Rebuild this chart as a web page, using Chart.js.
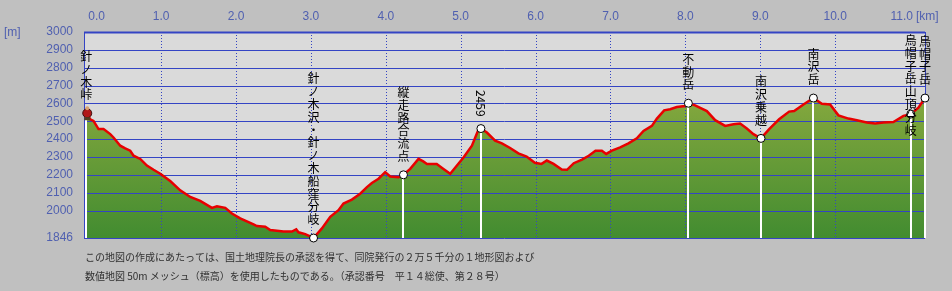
<!DOCTYPE html>
<html>
<head>
<meta charset="utf-8">
<script src="https://cdn.jsdelivr.net/npm/chart.js@4.4.0/dist/chart.umd.min.js"></script>
<style>
  html, body { margin: 0; padding: 0; background: #c0c0c0; }
  #profile { display: block; }
</style>
</head>
<body>
<canvas id="profile" width="952" height="291"></canvas>
<script>
/* ==========================================================================
   DATA
   ========================================================================== */
// distance along the route [km]
const kmValues = [
    0, 0.053, 0.097, 0.164, 0.231, 0.320, 0.364, 0.454, 0.521, 0.587,
    0.632, 0.721, 0.810, 0.899, 0.988, 1.121, 1.255, 1.389, 1.522, 1.678,
    1.745, 1.856, 1.945, 2.056, 2.234, 2.279, 2.390, 2.457, 2.634, 2.746,
    2.804, 2.834, 2.924, 3.035, 3.147, 3.258, 3.368, 3.435, 3.547, 3.658,
    3.748, 3.814, 3.903, 3.992, 4.059, 4.170, 4.236, 4.326, 4.437, 4.50,
    4.55, 4.68, 4.77, 4.86, 4.95, 5.04, 5.15, 5.24, 5.27, 5.35,
    5.46, 5.55, 5.66, 5.77, 5.88, 5.99, 6.08, 6.15, 6.24, 6.35,
    6.42, 6.51, 6.62, 6.71, 6.80, 6.885, 6.943, 7.019, 7.130, 7.240,
    7.352, 7.441, 7.553, 7.620, 7.717, 7.797, 7.886, 7.997, 8.04, 8.130,
    8.287, 8.398, 8.531, 8.642, 8.731, 8.821, 8.909, 9.01, 9.119, 9.252,
    9.386, 9.453, 9.577, 9.71, 9.822, 9.933, 10.044, 10.178, 10.290, 10.423,
    10.534, 10.645, 10.778, 10.912, 11.01, 11.112, 11.2
];
// elevation [m]
const elevValues = [
    2545, 2511, 2502, 2456, 2456, 2428, 2409, 2363, 2348, 2335,
    2307, 2289, 2252, 2228, 2206, 2165, 2113, 2076, 2054, 2015,
    2024, 2015, 1983, 1956, 1922, 1913, 1909, 1891, 1882, 1882,
    1894, 1878, 1868, 1846, 1900, 1965, 2002, 2039, 2061, 2094,
    2131, 2154, 2178, 2215, 2191, 2187, 2200, 2233, 2289, 2275,
    2261, 2261, 2233, 2206, 2252, 2298, 2363, 2456, 2459, 2437,
    2391, 2376, 2350, 2320, 2302, 2267, 2261, 2280, 2261, 2230,
    2228, 2265, 2285, 2307, 2335, 2335, 2317, 2335, 2354, 2376,
    2404, 2446, 2474, 2515, 2561, 2567, 2580, 2585, 2601, 2589,
    2557, 2506, 2474, 2483, 2487, 2459, 2428, 2404, 2456, 2511,
    2554, 2557, 2594, 2630, 2598, 2594, 2533, 2515, 2506, 2493,
    2487, 2493, 2496, 2530, 2540, 2576, 2630
];

// waypoints
const pointNames = ['針ノ木峠', '針ノ木沢・針ノ木船窪分岐', '縦走路合流点', '2459', '不動岳', '南沢乗越', '南沢岳', '烏帽子岳山頂分岐', '烏帽子岳'];
const pointKm = [0, 3.035, 4.236, 5.27, 8.04, 9.01, 9.71, 11.01, 11.2];
const pointElev = [2545, 1846, 2200, 2459, 2601, 2404, 2630, 2540, 2630];

// axis ticks
const kmTicks = [0, 1, 2, 3, 4, 5, 6, 7, 8, 9, 10, 11];
const elevTicks = [3000, 2900, 2800, 2700, 2600, 2500, 2400, 2300, 2200, 2100, 2000, 1846];

const noteLines = [
    'この地図の作成にあたっては、国土地理院長の承認を得て、同院発行の２万５千分の１地形図および',
    '数値地図 50m メッシュ（標高）を使用したものである。（承認番号　平１４総使、第２８号）'
];

const profileData = kmValues.map((km, i) => ({ x: km, y: elevValues[i] }));

/* ==========================================================================
   DRAWING HELPERS
   ========================================================================== */
const GRID_BLUE = '#3444c4';
const AXIS_TEXT = '#5060b0';
const LABEL_FONT = '12px "Noto Sans CJK JP", sans-serif';

const profilePlugin = {
    id: 'profilePlugin',

    beforeDraw(chart) {
        const { ctx, chartArea: a } = chart;
        ctx.save();
        ctx.fillStyle = '#dadada';
        ctx.fillRect(a.left, a.top, a.right - a.left, a.bottom - a.top);
        ctx.restore();
    },

    // grid goes over the green fill but under the red line
    afterDatasetDraw(chart, args) {
        if (args.index !== 0) return;
        const { ctx, chartArea: a, scales: { x, y } } = chart;
        ctx.save();
        ctx.strokeStyle = GRID_BLUE;

        elevTicks.forEach(v => {
            const py = Math.round(y.getPixelForValue(v)) + 0.5;
            ctx.lineWidth = v === 3000 ? 2 : 1;
            ctx.beginPath();
            ctx.moveTo(a.left, py);
            ctx.lineTo(a.right, py);
            ctx.stroke();
        });

        ctx.lineWidth = 1;
        ctx.setLineDash([1, 2]);
        kmTicks.slice(1).forEach(v => {
            const px = Math.round(x.getPixelForValue(v)) + 0.5;
            ctx.beginPath();
            ctx.moveTo(px, a.top);
            ctx.lineTo(px, a.bottom);
            ctx.stroke();
        });

        ctx.setLineDash([]);
        [a.left, a.right].forEach(px => {
            ctx.beginPath();
            ctx.moveTo(Math.round(px) + 0.5, a.top);
            ctx.lineTo(Math.round(px) + 0.5, a.bottom);
            ctx.stroke();
        });
        ctx.restore();
    },

    afterDatasetsDraw(chart) {
        const { ctx, chartArea: a, scales: { x, y } } = chart;
        ctx.save();

        // white drop lines
        ctx.strokeStyle = '#ffffff';
        ctx.lineWidth = 2;
        pointKm.forEach((km, i) => {
            const px = Math.round(x.getPixelForValue(km));
            ctx.beginPath();
            ctx.moveTo(px, y.getPixelForValue(pointElev[i]));
            ctx.lineTo(px, a.bottom);
            ctx.stroke();
        });

        // markers
        pointKm.forEach((km, i) => {
            const px = x.getPixelForValue(km);
            const py = y.getPixelForValue(pointElev[i]);
            if (i === 0) {
                // little hiker icon at the start
                ctx.fillStyle = '#b01818';
                ctx.strokeStyle = '#401010';
                ctx.lineWidth = 1;
                ctx.beginPath();
                ctx.arc(px + 1, py, 4.5, 0, Math.PI * 2);
                ctx.fill();
                ctx.stroke();
                ctx.fillStyle = '#d8a070';
                ctx.beginPath();
                ctx.arc(px + 1, py - 5, 2, 0, Math.PI * 2);
                ctx.fill();
                ctx.fillStyle = '#504020';
                ctx.fillRect(px - 2, py + 4, 6, 3);
                return;
            }
            ctx.fillStyle = '#ffffff';
            ctx.strokeStyle = '#000000';
            ctx.lineWidth = 1;
            ctx.beginPath();
            ctx.arc(px, py, 4, 0, Math.PI * 2);
            ctx.fill();
            ctx.stroke();
        });

        // vertical labels
        ctx.fillStyle = '#000000';
        ctx.font = LABEL_FONT;
        ctx.textAlign = 'center';
        ctx.textBaseline = 'middle';
        const step = 12.8;
        pointNames.forEach((name, i) => {
            const px = x.getPixelForValue(pointKm[i]);
            const py = y.getPixelForValue(pointElev[i]);
            const bottom = py - 12;
            if (/^\d+$/.test(name)) {
                const w = ctx.measureText(name).width;
                ctx.save();
                ctx.translate(px, bottom - w / 2);
                ctx.rotate(Math.PI / 2);
                ctx.fillText(name, 0, 0);
                ctx.restore();
                return;
            }
            const chars = Array.from(name);
            const top = Math.max(a.top + 2, bottom - chars.length * step);
            chars.forEach((c, k) => {
                ctx.fillText(c, px, top + (k + 0.5) * step);
            });
        });
        ctx.restore();
    },

    afterDraw(chart) {
        const { ctx, chartArea: a, scales: { x, y } } = chart;
        ctx.save();
        ctx.fillStyle = AXIS_TEXT;
        ctx.font = '12px "Liberation Sans", sans-serif';
        ctx.textBaseline = 'middle';

        // elevation labels
        ctx.textAlign = 'right';
        elevTicks.forEach(v => ctx.fillText(String(v), a.left - 11, y.getPixelForValue(v)));
        ctx.textAlign = 'left';
        ctx.fillText('[m]', 4, 33);

        // distance labels (first one pushed right, last one pulled left)
        const lastTick = kmTicks.length - 1;
        kmTicks.forEach((v, i) => {
            let px = x.getPixelForValue(v);
            ctx.textAlign = 'center';
            if (i === 0) { ctx.textAlign = 'left'; px += 2; }
            if (i === lastTick) { ctx.textAlign = 'right'; px += 3; }
            ctx.fillText(v.toFixed(1), px, 17);
        });
        ctx.textAlign = 'left';
        ctx.fillText('[km]', 916, 17);

        // note under the chart
        ctx.fillStyle = '#303030';
        ctx.font = '10px "Noto Sans CJK JP", sans-serif';
        noteLines.forEach((line, i) => ctx.fillText(line, 85, 257 + i * 19));
        ctx.restore();
    }
};

/* ==========================================================================
   CHART
   ========================================================================== */
const canvas = document.getElementById('profile');
const ctx2d = canvas.getContext('2d');
const greenFill = ctx2d.createLinearGradient(0, 95, 0, 238);
greenFill.addColorStop(0, '#86a83e');
greenFill.addColorStop(1, '#428c30');

new Chart(canvas, {
    type: 'line',
    data: {
        datasets: [
            {
                data: profileData,
                borderWidth: 0,
                pointRadius: 0,
                fill: 'start',
                backgroundColor: greenFill,
                tension: 0,
                order: 2
            },
            {
                data: profileData,
                borderColor: '#e80000',
                borderWidth: 2.5,
                pointRadius: 0,
                fill: false,
                tension: 0,
                order: 1
            }
        ]
    },
    options: {
        responsive: false,
        animation: false,
        layout: { padding: { left: 84, top: 32, right: 27, bottom: 53 } },
        plugins: {
            legend: { display: false },
            tooltip: { enabled: false }
        },
        scales: {
            x: { type: 'linear', display: false, min: -0.03, max: 11.2 },
            y: { type: 'linear', display: false, min: 1846, max: 3000 }
        }
    },
    plugins: [profilePlugin]
});
</script>
</body>
</html>
